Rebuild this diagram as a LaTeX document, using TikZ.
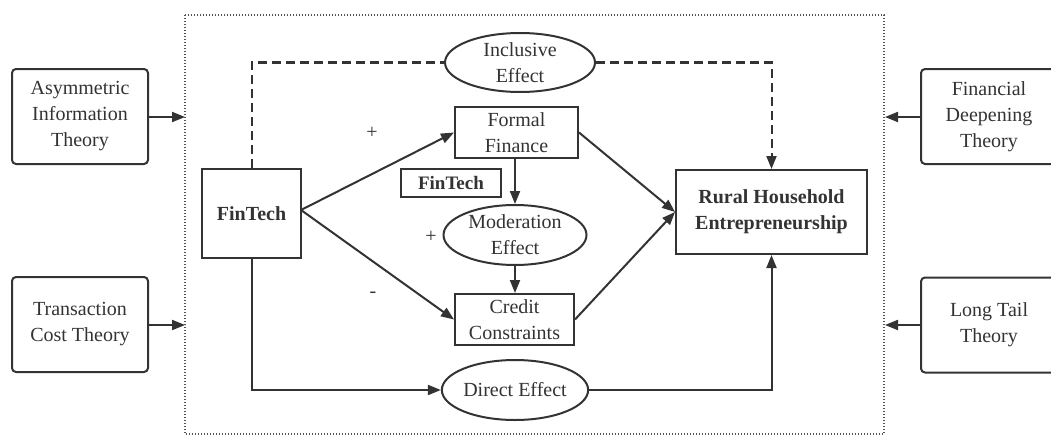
\documentclass[tikz,border=0pt]{standalone}
\usepackage{fontspec}
\setmainfont{Liberation Serif}
\usetikzlibrary{shapes.geometric,arrows.meta}
\definecolor{ink}{HTML}{333333}
\begin{document}
\begin{tikzpicture}[x=1pt,y=-1pt,
  every node/.style={text=ink,font=\fontsize{20}{26}\selectfont,align=center,inner sep=0pt},
  theory/.style={draw=ink,line width=2pt,rounded corners=4pt,minimum width=136pt,minimum height=95pt},
  box/.style={draw=ink,line width=2pt},
  oval/.style={draw=ink,line width=2pt,ellipse},
  arr/.style={draw=ink,line width=2pt,-{Triangle[length=13pt,width=10pt]}},
  dsh/.style={draw=ink,line width=2pt,dash pattern=on 9pt off 5pt},
]
\clip (0,0) rectangle (1051,436);
\fill[white] (0,0) rectangle (1051,436);
% frame
\draw[ink!85,line width=1.4pt,dash pattern=on 1.2pt off 1.8pt] (185,15) rectangle (884,434);
\coordinate (fl1) at (185,117);
\coordinate (fl2) at (185,325);
\coordinate (fr1) at (885,117);
\coordinate (fr2) at (885,325);
% theory boxes
\node[theory] (asym) at (80,116.5) {Asymmetric\\Information\\Theory};
\node[theory] (trans) at (80,324.5) {Transaction\\Cost Theory};
\node[theory] (deep) at (989,116.5) {Financial\\Deepening\\Theory};
\node[theory] (tail) at (989,325) {Long Tail\\Theory};
\draw[arr] (asym.east |- fl1) -- (fl1);
\draw[arr] (trans.east |- fl2) -- (fl2);
\draw[arr] (deep.west |- fr1) -- (fr1);
\draw[arr] (tail.west |- fr2) -- (fr2);
% inner nodes
\node[box,minimum width=99pt,minimum height=89pt,font=\fontsize{20}{26}\selectfont\bfseries] (fin) at (251.5,213.5) {FinTech};
\node[oval,minimum width=150pt,minimum height=59pt] (incl) at (520,62.5) {Inclusive\\Effect};
\node[box,minimum width=123pt,minimum height=51pt] (formal) at (516.5,132.5) {Formal\\Finance};
\node[box,minimum width=100pt,minimum height=28pt,font=\fontsize{19}{22}\selectfont\bfseries] (fin2) at (451,183) {FinTech};
\node[oval,minimum width=143pt,minimum height=60pt] (mod) at (515,235) {Moderation\\Effect};
\node[box,minimum width=119pt,minimum height=51pt] (credit) at (514.5,319.5) {Credit\\Constraints};
\node[box,minimum width=191pt,minimum height=84pt,font=\fontsize{20}{26}\selectfont\bfseries] (rural) at (771.5,212) {Rural Household\\Entrepreneurship};
\node[oval,minimum width=140pt,minimum height=60pt] (direct) at (515,390) {Direct Effect};
% labels
\node (p1) at (372,133) {+};
\node (p2) at (431,237) {+};
\node (m1) at (373,295) {-};
% connectors
\coordinate (fs) at (301,210);
\draw[arr] (fs) -- (formal.west);
\draw[arr] (fs) -- (credit.west);
\draw[arr] (formal.east) -- (rural.west);
\draw[arr] (credit.east) -- (rural.west);
\draw[arr] (formal.south -| mod.north) -- (mod.north);
\draw[arr] (mod.south) -- (mod.south |- credit.north);
\draw[dsh] (fin.north) |- (incl.west);
\draw[dsh,-{Triangle[length=13pt,width=10pt]}] (incl.east) -| (rural.north);
\draw[arr] (fin.south) |- (direct.west);
\draw[arr] (direct.east) -| (rural.south);
\end{tikzpicture}
\end{document}
